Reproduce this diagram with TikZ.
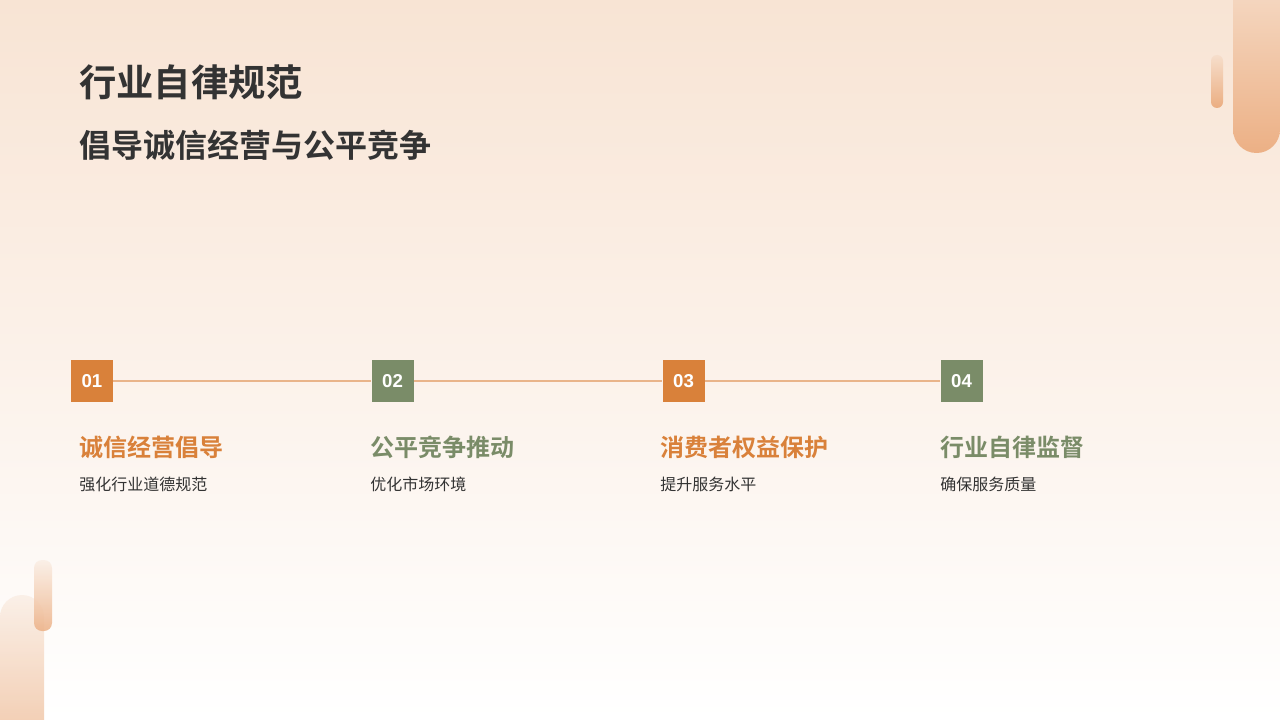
\documentclass[tikz,border=0pt]{standalone}
\usepackage{fontspec}
\setmainfont{Liberation Sans}
\newfontfamily\cjk{Noto Sans CJK SC}
\newfontfamily\cjkb{Noto Sans CJK SC Bold}
\usetikzlibrary{shapes.misc}
\definecolor{bgtop}{HTML}{F8E4D4}
\definecolor{bgbot}{HTML}{FFFFFF}
\definecolor{ora}{HTML}{D9813A}
\definecolor{grn}{HTML}{7A8C68}
\definecolor{txt}{HTML}{333333}
\definecolor{lin}{HTML}{E9B48A}
\definecolor{decoL}{HTML}{F6DECB}
\definecolor{decoD}{HTML}{ECB085}
\tikzset{
  numbox/.style={minimum width=31.5pt, minimum height=31.5pt, inner sep=0pt, text=white, font=\fontsize{14}{14}\bfseries\selectfont},
  ttl/.style={anchor=west, inner sep=0pt, font=\fontsize{18}{18}\cjkb\selectfont},
  sub/.style={anchor=west, inner sep=0pt, text=txt, font=\fontsize{12}{12}\cjk\selectfont},
}
\begin{document}
\begin{tikzpicture}[x=0.75pt,y=-0.75pt]
\useasboundingbox (0,0) rectangle (1280,720);
\shade[top color=bgtop, bottom color=bgbot] (0,0) rectangle (1280,720);
% top-right decorations
\shade[top color=decoL!80!bgtop, bottom color=decoD, rounded corners=17.6pt] (1233,-40) rectangle (1280,153);
\shade[top color=decoL, bottom color=decoD!95!ora, rounded corners=4.5pt] (1211,55) rectangle (1223,108);
% bottom-left decorations
\shade[top color=decoL!50!white, bottom color=decoD!85!white, rounded corners=16.5pt, opacity=0.85] (0,595) rectangle (44,760);
\shade[top color=decoL!50!white, bottom color=decoD, rounded corners=6pt, opacity=0.85] (34,560) rectangle (52,631);
% titles
\node[anchor=west, inner sep=0pt, text=txt, font=\fontsize{28}{28}\cjkb\selectfont] (title) at (79,82) {行业自律规范};
\node[anchor=west, inner sep=0pt, text=txt, font=\fontsize{24}{24}\cjkb\selectfont] (subtitle) at (79,145) {倡导诚信经营与公平竞争};
% timeline boxes
\node[numbox, fill=ora] (n1) at (92,381) {01};
\node[numbox, fill=grn] (n2) at (392.5,381) {02};
\node[numbox, fill=ora] (n3) at (683.5,381) {03};
\node[numbox, fill=grn] (n4) at (961.5,381) {04};
\draw[lin, line width=1.1pt] (n1.east) -- (n2.west);
\draw[lin, line width=1.1pt] (n2.east) -- (n3.west);
\draw[lin, line width=1.1pt] (n3.east) -- (n4.west);
% item texts
\node[ttl, text=ora] (t1) at (79,447) {诚信经营倡导};
\node[sub] (s1) at (79,484) {强化行业道德规范};
\node[ttl, text=grn] (t2) at (370,447) {公平竞争推动};
\node[sub] (s2) at (370,484) {优化市场环境};
\node[ttl, text=ora] (t3) at (660,447) {消费者权益保护};
\node[sub] (s3) at (660,484) {提升服务水平};
\node[ttl, text=grn] (t4) at (940,447) {行业自律监督};
\node[sub] (s4) at (940,484) {确保服务质量};
\end{tikzpicture}
\end{document}
